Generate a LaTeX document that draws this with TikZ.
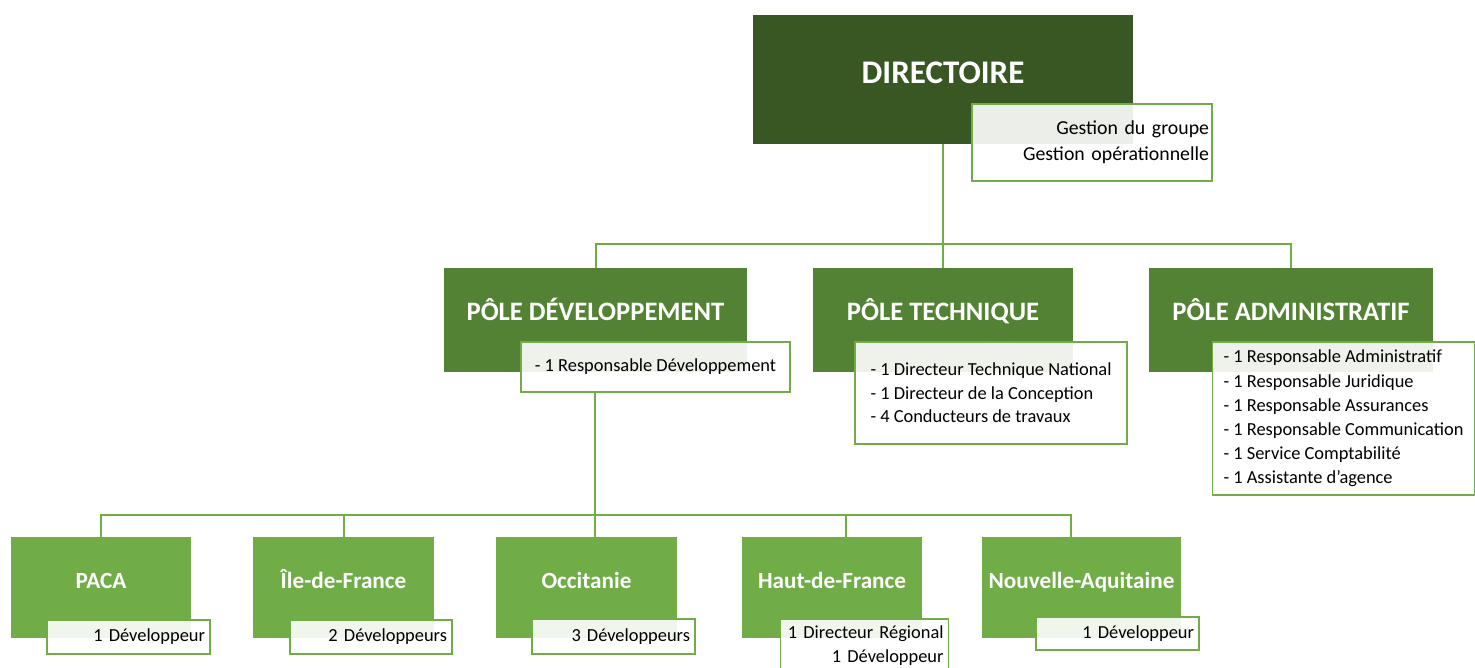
\documentclass[tikz,border=0pt]{standalone}
\usepackage{fontspec}
\setmainfont{Carlito}
\usepackage{tikz}
\definecolor{topgreen}{HTML}{385723}
\definecolor{polegreen}{HTML}{548235}
\definecolor{regiongreen}{HTML}{70AD47}
\definecolor{linegreen}{HTML}{70AD47}
\tikzset{
	box/.style 2 args={draw=none,fill=#1,text=white,inner sep=0pt,minimum width=#2},
	topbox/.style={box={topgreen}{190pt},minimum height=64.5pt,font=\bfseries\fontsize{16.5}{20}\selectfont,text height=10.6pt,text depth=6.5pt},
	polebox/.style={box={polegreen}{#1},minimum height=52pt,font=\bfseries\fontsize{13.3}{16}\selectfont,text height=8.6pt,text depth=8pt},
	regionbox/.style={box={regiongreen}{#1},minimum height=50.5pt,font=\bfseries\fontsize{11.6}{14}\selectfont,text height=7.5pt,text depth=6.5pt},
	info/.style 2 args={draw=regiongreen,line width=0.8pt,fill=white,fill opacity=0.9,text opacity=1,
		text=black,font=\fontsize{9.2}{12.1}\selectfont,inner ysep=0pt,minimum height=#2,minimum width=#1},
	linfo/.style 2 args={info={#1}{#2},inner xsep=5pt,align=left},
	rinfo/.style 2 args={info={#1}{#2},inner xsep=2.5pt,text width=#1-5pt,align=right},
	link/.style={draw=linegreen,line width=1pt}
}
\begin{document}
\begin{tikzpicture}[x=0.5pt,y=-0.5pt]
	\useasboundingbox (0,0) rectangle (1475,668);

	% direction
	\node [topbox] (dir) at (943,79.5) {DIRECTOIRE};
	\node [rinfo={120pt}{38.5pt},inner xsep=1.5pt,text width=117pt,font=\fontsize{9.9}{13}\selectfont]
		(dirinfo) at (1092,142.5) {Gestion du groupe\\Gestion opérationnelle};

	% poles
	\node [polebox=151.5pt] (pdev) at (595.5,320) {PÔLE DÉVELOPPEMENT};
	\node [linfo={134.5pt}{25pt}] (pdevinfo) at (655.5,367) {- 1 Responsable Développement};
	\node [polebox=130pt] (ptech) at (943,320) {PÔLE TECHNIQUE};
	\node [linfo={136pt}{51pt},font=\fontsize{9.2}{11.8}\selectfont] (ptechinfo) at (991,393)
		{- 1 Directeur Technique National\\- 1 Directeur de la Conception\\- 4 Conducteurs de travaux};
	\node [polebox=142pt] (padm) at (1291,320) {PÔLE ADMINISTRATIF};
	\node [linfo={131pt}{76.5pt}] (padminfo) at (1343.5,418.5)
		{- 1 Responsable Administratif\\- 1 Responsable Juridique\\- 1 Responsable Assurances\\
		- 1 Responsable Communication\\- 1 Service Comptabilité\\- 1 Assistante d’agence};

	% regions
	\node [regionbox=90pt] (paca) at (101,587.5) {PACA};
	\node [rinfo={81.5pt}{17pt}] (pacainfo) at (128.5,637) {1 Développeur};
	\node [regionbox=90.5pt] (idf) at (343.5,587.5) {Île-de-France};
	\node [rinfo={81pt}{17pt}] (idfinfo) at (371,637) {2 Développeurs};
	\node [regionbox=90.5pt] (occ) at (586.5,587.5) {Occitanie};
	\node [rinfo={81.5pt}{17.5pt}] (occinfo) at (613.5,636.5) {3 Développeurs};
	\node [regionbox=90pt] (hdf) at (832,587.5) {Haut-de-France};
	\node [rinfo={84pt}{26.5pt}] (hdfinfo) at (864.5,645.5) {1 Directeur Régional\\1 Développeur};
	\node [regionbox=99.5pt] (nouv) at (1081.5,587.5) {Nouvelle-Aquitaine};
	\node [rinfo={81.5pt}{16.5pt}] (nouvinfo) at (1117.5,633.5) {1 Développeur};

	% liens
	\coordinate (bus1) at (943,244);
	\coordinate (bus2) at (595,515);
	\draw [link] (dir.south) -- (bus1);
	\draw [link] (pdev.north) |- (bus1) -| (padm.north);
	\draw [link] (bus1) -- (ptech.north);
	\draw [link] (bus2 |- pdevinfo.south) -- (bus2);
	\draw [link] (paca.north) |- (bus2) -| ([xshift=-5.5pt]nouv.north);
	\draw [link] (idf.north) -- (idf.north |- bus2);
	\draw [link] (bus2) -- (bus2 |- occ.north);
	\draw [link] ([xshift=7pt]hdf.north) -- ([xshift=7pt]hdf.north |- bus2);
\end{tikzpicture}
\end{document}
